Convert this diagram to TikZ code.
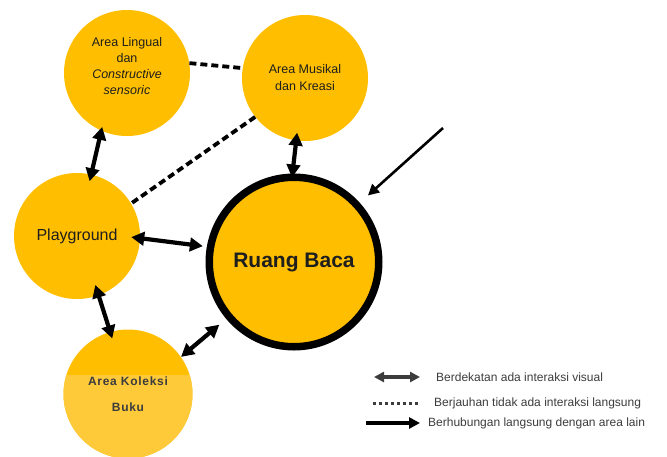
\documentclass[tikz,border=0pt]{standalone}
\usepackage{fontspec}
\setmainfont{Liberation Sans}
\usepackage{tikz}
\usetikzlibrary{arrows.meta,positioning}
\definecolor{amber}{RGB}{255,191,0}
\definecolor{amberlight}{RGB}{254,202,58}
\definecolor{legendgray}{RGB}{60,60,60}
\definecolor{textdark}{RGB}{30,30,30}
\tikzset{font=\fontsize{12.5}{15.7}\selectfont}
\tikzset{area/.style={circle,fill=amber,minimum size=126pt,inner sep=0pt}}
\tikzset{areatext/.style={align=center,text=textdark,inner sep=0pt}}
\tikzset{link/.style={line width=4.2pt,{Triangle[length=13pt,width=13.5pt]}-{Triangle[length=13pt,width=13.5pt]}}}
\tikzset{far/.style={line width=3.8pt,dash pattern=on 7pt off 4pt}}
\tikzset{legend/.style={anchor=west,inner sep=0pt,text=legendgray,font=\fontsize{12}{14}\selectfont}}

\begin{document}
\begin{tikzpicture}[x=1pt,y=-1pt]
  \useasboundingbox (0,0) rectangle (667,456);

  \node[area] (ling) at (127,73) {};
  \node[area] (musik) at (305,78) {};
  \node[area] (play) at (77,236) {};
  \node[area,minimum size=129pt] (kol) at (128,394) {};
  \begin{scope}
    \clip (0,375) rectangle (667,470);
    \fill[amberlight] (kol) circle (64.5);
  \end{scope}
  \node[circle,draw,line width=7.5pt,fill=amber,minimum size=169.5pt,inner sep=0pt] (baca) at (294,262) {};

  \node[areatext] at ([yshift=7pt]ling) {Area Lingual\\dan\\\textit{Constructive}\\\textit{sensoric}};
  \node[areatext,font=\fontsize{12.5}{17}\selectfont] at (musik) {Area Musikal\\dan Kreasi};
  \node[areatext,font=\fontsize{16}{18}\selectfont] at (play) {Playground};
  \node[areatext,font=\fontsize{21}{24}\selectfont\bfseries] at (baca) {Ruang Baca};
  \node[areatext,text=legendgray,font=\fontsize{12}{26}\selectfont\bfseries\addfontfeatures{LetterSpace=6}] at (kol) {Area Koleksi\\Buku};

  % hubungan antar area
  \draw[link,shorten <=-4pt,shorten >=-7pt] (ling.246) -- (play.77);
  \draw[link,shorten <=-9pt,shorten >=4pt] (play.-2) -- (baca.170);
  \draw[link,shorten <=-8pt,shorten >=-4pt] (musik.262) -- (baca.91);
  \draw[link,shorten <=-11pt,shorten >=-7pt] (play.-70) -- (kol.106);
  \draw[link,shorten >=9pt] (kol.35) -- (baca.220);
  \draw[far] (ling.9) -- (musik.171);
  \draw[far] (musik.218) -- (play.31);

  \coordinate (pointer) at (443,128);
  \draw[line width=2.6pt,-{Triangle[length=11pt,width=11pt]},shorten >=11pt] (pointer) -- (baca.42);

  % keterangan
  \node[legend] (visual) at (436,377) {Berdekatan ada interaksi visual};
  \node[legend] (jauh) at (434,403) {Berjauhan tidak ada interaksi langsung};
  \node[legend] (hubung) at (428,423) {Berhubungan langsung dengan area lain};
  \coordinate (v1) at (374,377);
  \coordinate (v2) at (420,377);
  \coordinate (j1) at (373,403);
  \coordinate (j2) at (420,403);
  \coordinate (h1) at (366,423);
  \coordinate (h2) at (420,423);
  \draw[legendgray,line width=3.2pt,{Triangle[length=10pt,width=10pt]}-{Triangle[length=10pt,width=10pt]}] (v1) -- (v2);
  \draw[legendgray,line width=3pt,dash pattern=on 3pt off 3pt] (j1) -- (j2);
  \draw[line width=3.5pt,-{Triangle[length=11pt,width=11pt]}] (h1) -- (h2);
\end{tikzpicture}
\end{document}
